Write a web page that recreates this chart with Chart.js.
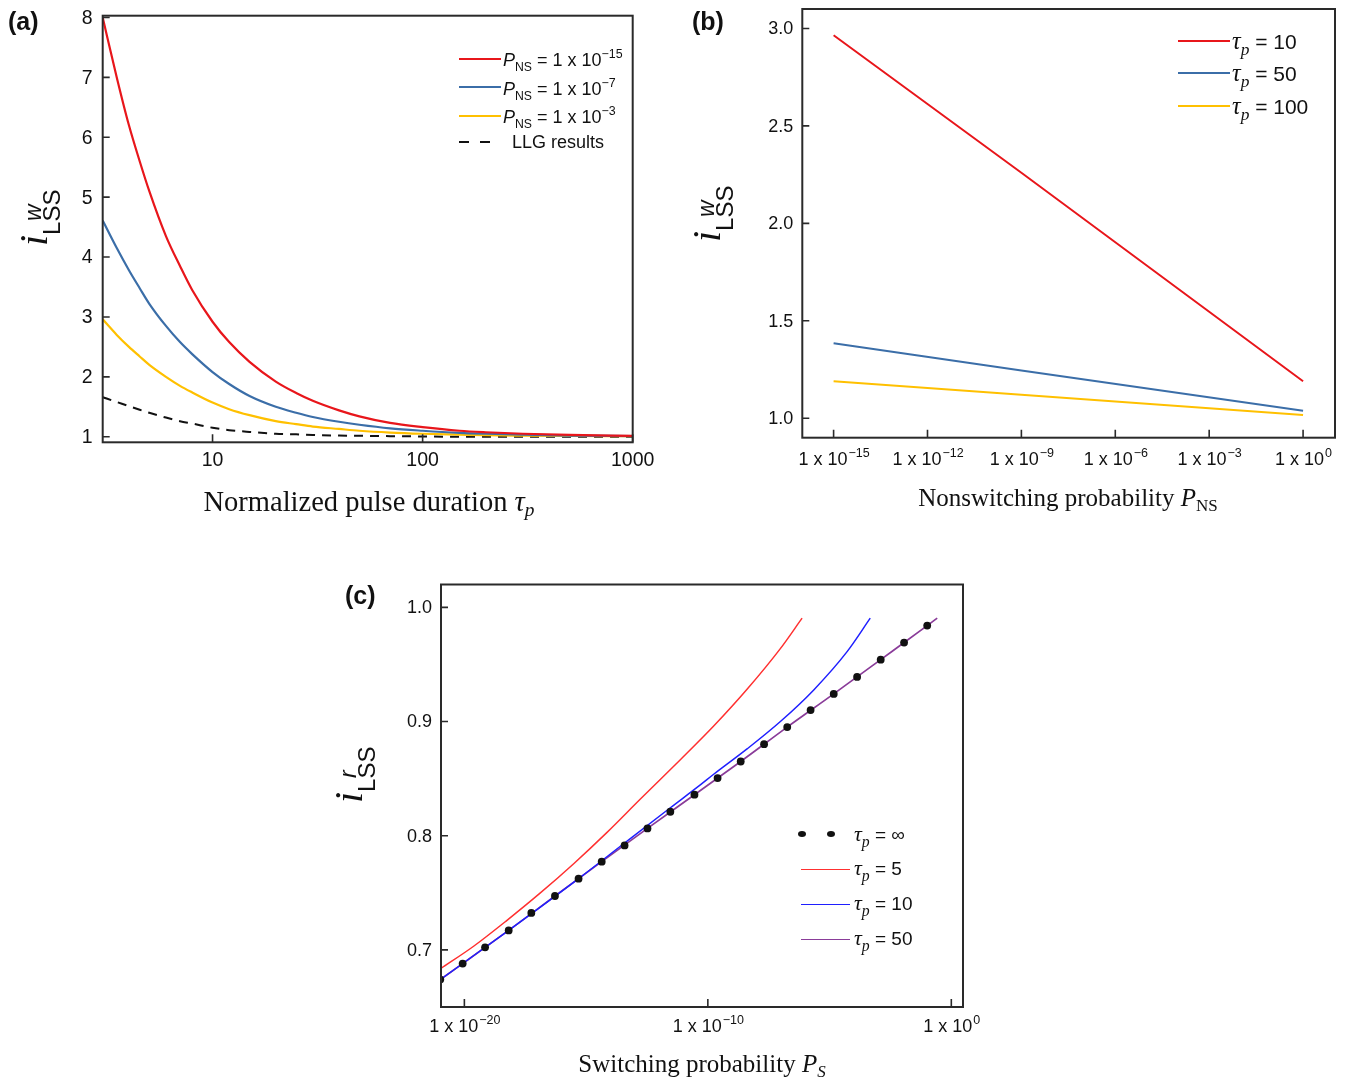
<!DOCTYPE html>
<html>
<head>
<meta charset="utf-8">
<title>LSS current panels</title>
<script src="https://cdn.jsdelivr.net/npm/chart.js@4.4.1/dist/chart.umd.min.js"></script>
<style>
  body { margin: 0; background: #fff; }
  #page { position: relative; width: 1353px; height: 1082px; overflow: hidden;
          font-family: "Liberation Sans", Arial, sans-serif; color: #111; }
  #page canvas { position: absolute; }
  .t { position: absolute; white-space: nowrap; line-height: 1; }
  .t span, .t i { line-height: 0; }
  .serif { font-family: "Liberation Serif", "Times New Roman", serif; }
  .tag { font-weight: bold; font-size: 25px; }
  .ctr { transform: translateX(-50%); }
  .sb { position: relative; top: 5px; font-size: 0.68em; }
  .sp { position: relative; top: -8px; font-size: 0.69em; }
  .tau { font-family: "Liberation Serif", serif; font-style: italic; font-size: 1.15em; }
  .tau .sb { font-size: 0.72em; top: 6px; }
  .sw { position: absolute; height: 0; }
  .dot { position: absolute; width: 8px; height: 6px; border-radius: 50%; background: #111; }
  .ylab { position: absolute; white-space: nowrap; line-height: 1; font-size: 40px;
          transform-origin: 0 0; transform: rotate(-90deg); }
  .ylab .ii { font-family: "Liberation Serif", serif; font-style: italic; }
  .ylab .lss { position: relative; top: 13px; font-size: 24px; line-height: 1; }
  .ylab .up { position: absolute; left: 14px; top: -16px; font-size: 23px; font-style: italic; line-height: 22px; }
</style>
</head>
<body>
<div id="page">
  <canvas id="chartA" width="680" height="540" style="left:0;top:0"></canvas>
  <canvas id="chartB" width="673" height="540" style="left:680px;top:0"></canvas>
  <canvas id="chartC" width="700" height="522" style="left:320px;top:560px"></canvas>

  <!-- panel tags -->
  <div class="t tag" style="left:8px;top:9px">(a)</div>
  <div class="t tag" style="left:692px;top:9px">(b)</div>
  <div class="t tag" style="left:345px;top:583px">(c)</div>

  <!-- y titles -->
  <div class="ylab" style="left:12.5px;top:246px"><span class="ii">i</span><span class="lss">LSS<span class="up">w</span></span></div>
  <div class="ylab" style="left:686px;top:242px"><span class="ii">i</span><span class="lss">LSS<span class="up">w</span></span></div>
  <div class="ylab" style="left:328px;top:803px"><span class="ii">i</span><span class="lss">LSS<span class="up">r</span></span></div>

  <!-- x titles -->
  <div class="t serif ctr" style="left:369px;top:488px;font-size:28.5px">Normalized pulse duration <i>τ<span class="sb">p</span></i></div>
  <div class="t serif ctr" style="left:1068px;top:485px;font-size:25px">Nonswitching probability <i>P</i><span class="sb">NS</span></div>
  <div class="t serif ctr" style="left:702px;top:1051px;font-size:25px">Switching probability <i>P</i><span class="sb" style="font-style:italic">S</span></div>

  <!-- legend (a) -->
  <div class="sw" style="left:459px;top:58px;width:42px;border-top:2.5px solid #e8161b"></div>
  <div class="sw" style="left:459px;top:86px;width:42px;border-top:2.5px solid #3b6ea8"></div>
  <div class="sw" style="left:459px;top:115px;width:42px;border-top:2.5px solid #ffc000"></div>
  <div class="sw" style="left:459px;top:141px;width:10px;border-top:2.5px solid #111"></div>
  <div class="sw" style="left:480px;top:141px;width:10px;border-top:2.5px solid #111"></div>
  <div class="t" style="left:503px;top:51px;font-size:18px"><i>P</i><span class="sb">NS</span> = 1 x 10<span class="sp">−15</span></div>
  <div class="t" style="left:503px;top:79.5px;font-size:18px"><i>P</i><span class="sb">NS</span> = 1 x 10<span class="sp">−7</span></div>
  <div class="t" style="left:503px;top:108px;font-size:18px"><i>P</i><span class="sb">NS</span> = 1 x 10<span class="sp">−3</span></div>
  <div class="t" style="left:512px;top:133px;font-size:18px">LLG results</div>

  <!-- legend (b) -->
  <div class="sw" style="left:1178px;top:40px;width:52px;border-top:2.5px solid #e8161b"></div>
  <div class="sw" style="left:1178px;top:72px;width:52px;border-top:2.5px solid #3b6ea8"></div>
  <div class="sw" style="left:1178px;top:104.5px;width:52px;border-top:2.5px solid #ffc000"></div>
  <div class="t" style="left:1232px;top:31px;font-size:21px"><span class="tau">τ<span class="sb">p</span></span> = 10</div>
  <div class="t" style="left:1232px;top:63px;font-size:21px"><span class="tau">τ<span class="sb">p</span></span> = 50</div>
  <div class="t" style="left:1232px;top:95.5px;font-size:21px"><span class="tau">τ<span class="sb">p</span></span> = 100</div>

  <!-- legend (c) -->
  <div class="dot" style="left:798px;top:831px"></div>
  <div class="dot" style="left:827px;top:831px"></div>
  <div class="sw" style="left:801px;top:868.5px;width:49px;border-top:1.6px solid #ff3030"></div>
  <div class="sw" style="left:801px;top:903.5px;width:49px;border-top:1.6px solid #1f1fff"></div>
  <div class="sw" style="left:801px;top:938.5px;width:49px;border-top:1.8px solid #8a3c99"></div>
  <div class="t" style="left:854px;top:825px;font-size:19px"><span class="tau">τ<span class="sb">p</span></span> = ∞</div>
  <div class="t" style="left:854px;top:859px;font-size:19px"><span class="tau">τ<span class="sb">p</span></span> = 5</div>
  <div class="t" style="left:854px;top:894px;font-size:19px"><span class="tau">τ<span class="sb">p</span></span> = 10</div>
  <div class="t" style="left:854px;top:929px;font-size:19px"><span class="tau">τ<span class="sb">p</span></span> = 50</div>
</div>

<script>
// (a) i_LSS^w vs normalized pulse duration
const tauA = [3, 3.5, 4, 4.5, 5, 6, 7, 8, 10, 12, 15, 20, 25, 30, 40, 50, 70, 100, 150, 200, 300, 500, 1000];
const pns15A = [8.0, 7.0, 6.2, 5.6, 5.1, 4.35, 3.85, 3.45, 2.92, 2.58, 2.25, 1.92, 1.73, 1.6, 1.44, 1.34,
                1.23, 1.16, 1.1, 1.075, 1.05, 1.03, 1.015];
const pns7A = [4.61, 4.15, 3.78, 3.48, 3.22, 2.85, 2.58, 2.38, 2.08, 1.88, 1.68, 1.5, 1.4, 1.33, 1.25, 1.2,
               1.14, 1.10, 1.065, 1.05, 1.035, 1.02, 1.01];
const pns3A = [2.96, 2.7, 2.5, 2.34, 2.2, 2.0, 1.85, 1.74, 1.57, 1.46, 1.36, 1.26, 1.21, 1.17, 1.13, 1.1,
               1.07, 1.05, 1.035, 1.025, 1.018, 1.012, 1.008];
const llgA = [1.66, 1.58, 1.51, 1.45, 1.40, 1.32, 1.26, 1.22, 1.15, 1.11, 1.08, 1.05, 1.04, 1.03, 1.02, 1.015,
              1.01, 1.005, 1.0, 1.0, 1.0, 1.0, 1.0];
const xTicksA = [10, 100, 1000];
const yTicksA = [1, 2, 3, 4, 5, 6, 7, 8];

// (b) i_LSS^w vs P_NS (exponents of 10)
const pnsExpB = [-15, -9, 0];
const tau10B = [2.965, 2.26, 1.19];
const tau50B = [1.385, 1.245, 1.038];
const tau100B = [1.19, 1.12, 1.016];
const xTickExpB = [-15, -12, -9, -6, -3, 0];
const yTicksB = [1.0, 1.5, 2.0, 2.5, 3.0];

// (c) i_LSS^r vs P_S (exponents of 10)
const infExpC = [-20.99, -20.07, -19.15, -18.18, -17.25, -16.28, -15.31, -14.36, -13.42, -12.48, -11.54,
                 -10.55, -9.60, -8.65, -7.69, -6.74, -5.78, -4.83, -3.87, -2.90, -1.94, -0.99];
const infC = [0.674, 0.688, 0.7023, 0.7171, 0.7324, 0.7472, 0.7624, 0.7773, 0.7915, 0.8064, 0.8210,
              0.8359, 0.8505, 0.8650, 0.8802, 0.8951, 0.9100, 0.9242, 0.9391, 0.9542, 0.9691, 0.9840];
const tau5ExpC = [-20.99, -19.62, -18.25, -16.88, -15.51, -14.14, -12.77, -11.13, -9.76, -8.39, -7.03, -6.13];
const tau5C = [0.6834, 0.7032, 0.7259, 0.7499, 0.7755, 0.8029, 0.8321, 0.8665, 0.8960, 0.9282, 0.9636, 0.9905];
const tau10ExpC = [-20.99, -18.18, -15.31, -13.42, -11.54, -10.31, -9.76, -8.39, -7.02, -5.65, -4.28, -3.33];
const tau10C = [0.674, 0.7171, 0.7624, 0.7936, 0.8245, 0.8445, 0.8538, 0.8760, 0.9, 0.9277, 0.9612, 0.9905];
const tau50ExpC = [-20.99, -20.07, -18.18, -16.28, -14.36, -12.48, -10.55, -8.65, -6.74, -4.83, -2.90, -0.99, -0.58];
const tau50C = [0.674, 0.688, 0.7171, 0.7472, 0.7773, 0.8064, 0.8359, 0.8650, 0.8951, 0.9242, 0.9542, 0.9840, 0.9905];
const xTickExpC = [-20, -10, 0];
const yTicksC = [0.7, 0.8, 0.9, 1.0];

const pts = (xs, ys) => xs.map((x, i) => ({ x: x, y: ys[i] }));
const ptsExp = (es, ys) => es.map((e, i) => ({ x: Math.pow(10, e), y: ys[i] }));

// box, inward ticks and tick labels drawn off the chart's own scales
const framePlugin = {
  id: 'frame',
  afterDraw(chart, args, o) {
    const ctx = chart.ctx, a = chart.chartArea;
    const xs = chart.scales.x, ys = chart.scales.y;
    ctx.save();
    ctx.strokeStyle = '#2a2a2a';
    ctx.lineWidth = 1.6;
    ctx.beginPath();
    o.yTicks.forEach(v => {
      const py = ys.getPixelForValue(v);
      ctx.moveTo(a.left, py); ctx.lineTo(a.left + 7, py);
    });
    o.xTicks.forEach(v => {
      const px = xs.getPixelForValue(v);
      ctx.moveTo(px, a.bottom); ctx.lineTo(px, a.bottom - 8);
    });
    ctx.stroke();
    ctx.lineWidth = 2;
    ctx.strokeRect(a.left, a.top, a.right - a.left, a.bottom - a.top);

    ctx.fillStyle = '#111';
    ctx.font = o.font;
    ctx.textAlign = 'right';
    ctx.textBaseline = 'middle';
    o.yTicks.forEach((v, i) => ctx.fillText(o.yLabels[i], a.left - o.yGap, ys.getPixelForValue(v) + 1));

    ctx.textAlign = 'left';
    ctx.textBaseline = 'alphabetic';
    const base = a.bottom + o.xGap;
    o.xTicks.forEach((v, i) => {
      const px = xs.getPixelForValue(v);
      const main = o.xLabels[i];
      const sup = o.xSups ? o.xSups[i] : '';
      ctx.font = o.font;
      const w1 = ctx.measureText(main).width;
      ctx.font = o.supFont || o.font;
      const w2 = sup ? ctx.measureText(sup).width : 0;
      const x0 = px - (w1 + w2) / 2;
      ctx.font = o.font;
      ctx.fillText(main, x0, base);
      if (sup) {
        ctx.font = o.supFont;
        ctx.fillText(sup, x0 + w1 + 1, base - o.supRaise);
      }
    });
    ctx.restore();
  }
};

function line(data, color, width, extra) {
  return Object.assign({
    data: data, showLine: true, borderColor: color, backgroundColor: color,
    borderWidth: width, pointRadius: 0, cubicInterpolationMode: 'monotone'
  }, extra || {});
}

function makeChart(id, datasets, xOpt, yOpt, padding, frame) {
  return new Chart(document.getElementById(id), {
    type: 'scatter',
    data: { datasets: datasets },
    options: {
      responsive: false,
      animation: false,
      events: [],
      layout: { padding: padding },
      scales: {
        x: Object.assign({ display: false }, xOpt),
        y: Object.assign({ display: false }, yOpt)
      },
      plugins: { legend: { display: false }, tooltip: { enabled: false }, frame: frame }
    },
    plugins: [framePlugin]
  });
}

makeChart('chartA', [
  line(pts(tauA, pns15A), '#e8161b', 2.2),
  line(pts(tauA, pns7A), '#3b6ea8', 2.2),
  line(pts(tauA, pns3A), '#ffc000', 2.2),
  line(pts(tauA, llgA), '#111111', 2, { borderDash: [9, 7] })
], { type: 'logarithmic', min: 3, max: 1000 }, { type: 'linear', min: 0.907, max: 8.03 },
  { left: 102.7, top: 15.7, right: 47.3, bottom: 97.7 },
  { xTicks: xTicksA, yTicks: yTicksA,
    xLabels: xTicksA.map(String), yLabels: yTicksA.map(String),
    font: '19.5px "Liberation Sans", Arial, sans-serif', yGap: 10, xGap: 23.5 });

makeChart('chartB', [
  line(ptsExp(pnsExpB, tau10B), '#e8161b', 2, { cubicInterpolationMode: 'default', tension: 0 }),
  line(ptsExp(pnsExpB, tau50B), '#3b6ea8', 2, { cubicInterpolationMode: 'default', tension: 0 }),
  line(ptsExp(pnsExpB, tau100B), '#ffc000', 2, { cubicInterpolationMode: 'default', tension: 0 })
], { type: 'logarithmic', min: 1e-16, max: Math.pow(10, 1.02) }, { type: 'linear', min: 0.9, max: 3.1 },
  { left: 122.3, top: 9, right: 18, bottom: 102.3 },
  { xTicks: xTickExpB.map(e => Math.pow(10, e)), yTicks: yTicksB,
    xLabels: xTickExpB.map(() => '1 x 10'), xSups: xTickExpB.map(e => e < 0 ? '−' + (-e) : String(e)),
    yLabels: yTicksB.map(v => v.toFixed(1)),
    font: '18px "Liberation Sans", Arial, sans-serif', supFont: '12.5px "Liberation Sans", Arial, sans-serif',
    supRaise: 8.5, yGap: 9, xGap: 27.3 });

makeChart('chartC', [
  { data: ptsExp(infExpC, infC), showLine: false, pointRadius: 3.9, pointBackgroundColor: '#111',
    pointBorderWidth: 0, pointStyle: 'circle' },
  line(ptsExp(tau5ExpC, tau5C), '#ff3030', 1.5),
  line(ptsExp(tau10ExpC, tau10C), '#1f1fff', 1.5),
  line(ptsExp(tau50ExpC, tau50C), '#8a3c99', 1.7)
], { type: 'logarithmic', min: Math.pow(10, -20.96), max: Math.pow(10, 0.48) }, { type: 'linear', min: 0.65, max: 1.02 },
  { left: 121, top: 24.5, right: 57, bottom: 75 },
  { xTicks: xTickExpC.map(e => Math.pow(10, e)), yTicks: yTicksC,
    xLabels: xTickExpC.map(() => '1 x 10'), xSups: xTickExpC.map(e => e < 0 ? '−' + (-e) : String(e)),
    yLabels: yTicksC.map(v => v.toFixed(1)),
    font: '18px "Liberation Sans", Arial, sans-serif', supFont: '12.5px "Liberation Sans", Arial, sans-serif',
    supRaise: 8.5, yGap: 9, xGap: 25 });
</script>
</body>
</html>
